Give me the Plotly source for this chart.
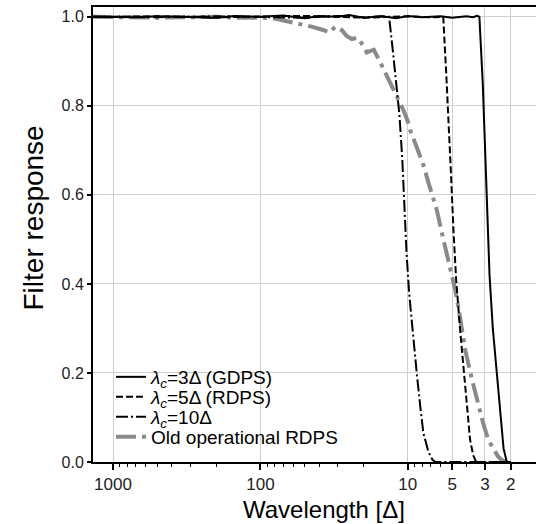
import numpy as np
import plotly.graph_objects as go

# ---------------- data ----------------
gdps_wl = [1367, 1000, 700, 500, 300, 200, 150, 100, 70, 50, 40, 30, 25, 20, 15, 12, 10,
           8, 6, 5, 4, 3.6, 3.4, 3.27, 3.1, 2.99, 2.88, 2.79, 2.65, 2.49, 2.35, 2.24, 2.13, 2.0]
gdps_val = [1.0, 1.0, 0.999, 1.001, 1.0, 0.998, 1.002, 1.0, 1.003, 0.997, 1.002, 1.0, 1.004,
            0.998, 1.001, 0.997, 1.002, 0.999, 1.001, 0.998, 1.001, 0.999, 1.002, 1.0,
            0.85, 0.70, 0.55, 0.42, 0.30, 0.20, 0.10, 0.03, 0.0, 0.0]

rdps_wl = [1367, 1000, 500, 200, 100, 50, 20, 10, 7, 5.75, 5.5, 5.3, 5.1, 4.9, 4.7, 4.4,
           4.15, 3.95, 3.78, 3.6, 3.44, 2.0]
rdps_val = [1.0, 1.0, 1.001, 0.999, 1.0, 1.002, 0.998, 1.001, 0.999, 1.0, 0.88, 0.78, 0.65,
            0.52, 0.41, 0.29, 0.20, 0.12, 0.05, 0.015, 0.0, 0.0]

c10_wl = [1367, 1000, 500, 200, 100, 50, 30, 20, 15, 13.4, 12.6, 12.0, 11.4, 10.9, 10.6,
          10.2, 9.8, 9.2, 8.7, 8.2, 7.84, 7.25, 6.8, 6.5, 2.0]
c10_val = [1.0, 1.0, 0.999, 1.001, 1.0, 0.998, 1.002, 0.999, 1.001, 1.0, 0.92, 0.85, 0.78,
           0.68, 0.58, 0.47, 0.38, 0.28, 0.20, 0.12, 0.065, 0.023, 0.005, 0.0, 0.0]

old_wl = [1367, 1000, 700, 500, 300, 200, 150, 120, 100, 80, 65, 54, 45, 38, 34, 31, 28, 26,
          24, 22, 20, 19, 17, 15.5, 14, 13, 12.2, 11.5, 10.7, 10, 9.65, 9, 8.25, 7.8, 7.24,
          6.8, 6.36, 5.88, 5.6, 5.3, 5.0, 4.77, 4.5, 4.08, 3.7, 3.4, 3.1, 2.84, 2.6, 2.45,
          2.30, 2.13]
old_val = [1.0, 0.999, 1.0, 0.998, 0.999, 1.0, 0.998, 0.999, 0.998, 0.996, 0.99, 0.984,
           0.978, 0.971, 0.965, 0.978, 0.97, 0.957, 0.95, 0.953, 0.935, 0.92, 0.926, 0.9,
           0.87, 0.85, 0.83, 0.81, 0.79, 0.765, 0.746, 0.72, 0.69, 0.665, 0.627, 0.60,
           0.566, 0.515, 0.485, 0.447, 0.41, 0.387, 0.34, 0.252, 0.19, 0.139, 0.09, 0.049,
           0.025, 0.013, 0.004, 0.0]

x_tickvals = [1000, 100, 10, 5, 3, 2]
x_ticktext = ["1000", "100", "10", "5", "3", "2"]
x_minor = [m * 10 ** k for k in (0, 1, 2) for m in range(2, 10)]
x_minor = [v for v in x_minor if v not in x_tickvals]
y_tickvals = [0.0, 0.2, 0.4, 0.6, 0.8, 1.0]

labels = ["<i>λ<sub>c</sub></i>=3Δ (GDPS)", "<i>λ<sub>c</sub></i>=5Δ (RDPS)",
          "<i>λ<sub>c</sub></i>=10Δ", "Old operational RDPS"]

FONT = "Liberation Sans, Arial, sans-serif"

# ---------------- figure ----------------
fig = go.Figure()
series = [
    (old_wl, old_val, dict(color="#8a8a8a", width=4, dash="20px,6px,4px,6px"), labels[3], "legend4"),
    (c10_wl, c10_val, dict(color="black", width=2, dash="12px,3px,2px,3px"), labels[2], "legend3"),
    (rdps_wl, rdps_val, dict(color="black", width=2, dash="7px,3px"), labels[1], "legend2"),
    (gdps_wl, gdps_val, dict(color="black", width=2), labels[0], "legend"),
]
for xs, ys, line, name, leg in series:
    fig.add_trace(go.Scatter(x=xs, y=ys, mode="lines", line=line, name=name,
                             legend=leg, showlegend=True))

W, H = 536, 524
ml, mr, mt, mb = 93, 0, 7, 62
pw, ph = W - ml - mr, H - mt - mb

def px_to_paper_x(px):
    return (px - ml) / pw

def px_to_paper_y(py):
    return (H - mb - py) / ph

leg_common = dict(bgcolor="rgba(0,0,0,0)", borderwidth=0, xanchor="left", yanchor="middle",
                  font=dict(family=FONT, size=19, color="black"), x=px_to_paper_x(111))
legend_rows = [377, 397, 417, 437]

fig.update_layout(
    width=W, height=H,
    margin=dict(l=ml, r=mr, t=mt, b=mb),
    paper_bgcolor="white", plot_bgcolor="white",
    font=dict(family=FONT, color="black"),
    legend=dict(**leg_common, y=px_to_paper_y(legend_rows[0])),
    legend2=dict(**leg_common, y=px_to_paper_y(legend_rows[1])),
    legend3=dict(**leg_common, y=px_to_paper_y(legend_rows[2])),
    legend4=dict(**leg_common, y=px_to_paper_y(legend_rows[3])),
    xaxis=dict(
        type="log", range=[np.log10(1367), np.log10(1.35)],
        tickvals=x_tickvals, ticktext=x_ticktext,
        ticks="outside", ticklen=6, tickwidth=1.5, tickcolor="black",
        tickfont=dict(family=FONT, size=17, color="#222"),
        showgrid=True, gridcolor="#cfcfcf", gridwidth=1,
        showline=True, linecolor="black", linewidth=2, mirror=True,
        zeroline=False,
        minor=dict(tickvals=x_minor, ticks="outside", ticklen=3, tickwidth=1,
                   tickcolor="black", showgrid=False),
    ),
    yaxis=dict(
        range=[0, 1.022],
        tickvals=y_tickvals, tickformat=".1f",
        ticks="outside", ticklen=4, tickwidth=1.5, tickcolor="black",
        tickfont=dict(family=FONT, size=16, color="#222"),
        showgrid=True, gridcolor="#cfcfcf", gridwidth=1,
        showline=True, linecolor="black", linewidth=2,
        zeroline=False,
    ),
    annotations=[
        dict(text="Filter response", textangle=-90, showarrow=False,
             xref="paper", yref="paper", x=px_to_paper_x(33), y=px_to_paper_y(217.5),
             xanchor="center", yanchor="middle",
             font=dict(family=FONT, size=28, color="black")),
        dict(text="Wavelength [Δ]", showarrow=False,
             xref="paper", yref="paper", x=px_to_paper_x(324), y=px_to_paper_y(509.7),
             xanchor="center", yanchor="middle",
             font=dict(family=FONT, size=24, color="black")),
    ],
)

fig.write_html("out.html")
